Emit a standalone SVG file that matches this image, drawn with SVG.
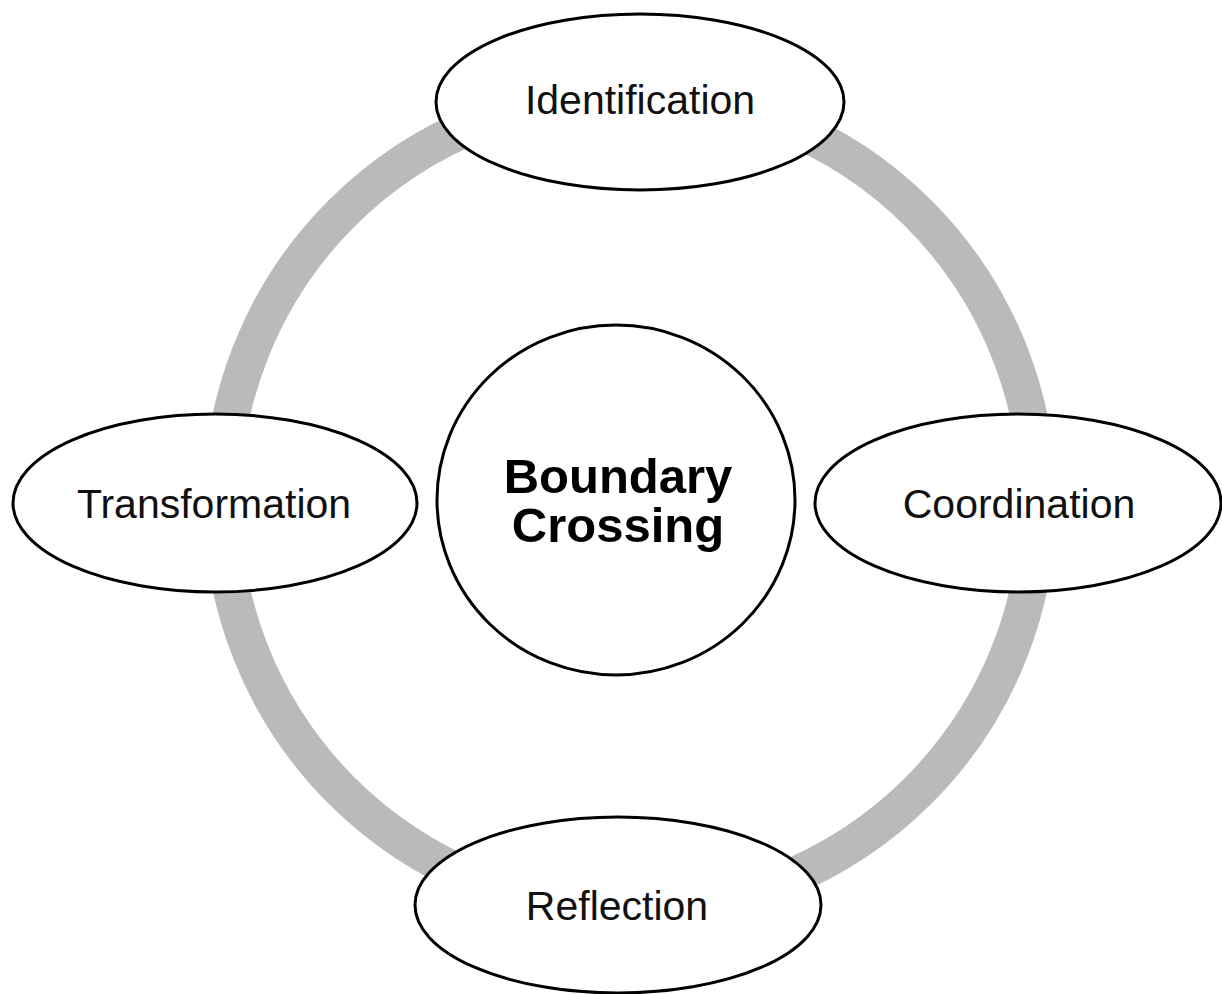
<svg xmlns="http://www.w3.org/2000/svg" width="1222" height="994" viewBox="0 0 1222 994">
  <style>
    .node { fill: #ffffff; stroke: #000000; stroke-width: 3; }
    .label { font-family: "Liberation Sans", Arial, sans-serif; font-size: 41px; fill: #111111; text-anchor: middle; }
    .core { font-family: "Liberation Sans", Arial, sans-serif; font-size: 49px; font-weight: bold; fill: #000000; text-anchor: middle; }
    .ring { fill: none; stroke: #bababa; stroke-width: 37; }
  </style>
  <rect width="1222" height="994" fill="#ffffff"/>

  <!-- cycle ring linking the four phases -->
  <g id="connectors">
    <circle class="ring" cx="630" cy="502" r="408"/>
  </g>

  <g id="node-center">
    <ellipse class="node" cx="616" cy="500" rx="179" ry="175"/>
    <text class="core" x="618" y="493">Boundary</text>
    <text class="core" x="618" y="542">Crossing</text>
  </g>

  <g id="node-identification">
    <ellipse class="node" cx="640" cy="102" rx="204" ry="88"/>
    <text class="label" x="640" y="114">Identification</text>
  </g>

  <g id="node-transformation">
    <ellipse class="node" cx="215" cy="503" rx="202" ry="89"/>
    <text class="label" x="214" y="518">Transformation</text>
  </g>

  <g id="node-coordination">
    <ellipse class="node" cx="1018" cy="503" rx="203" ry="89"/>
    <text class="label" x="1019" y="518">Coordination</text>
  </g>

  <g id="node-reflection">
    <ellipse class="node" cx="618" cy="905" rx="203" ry="88"/>
    <text class="label" x="617" y="920">Reflection</text>
  </g>
</svg>
